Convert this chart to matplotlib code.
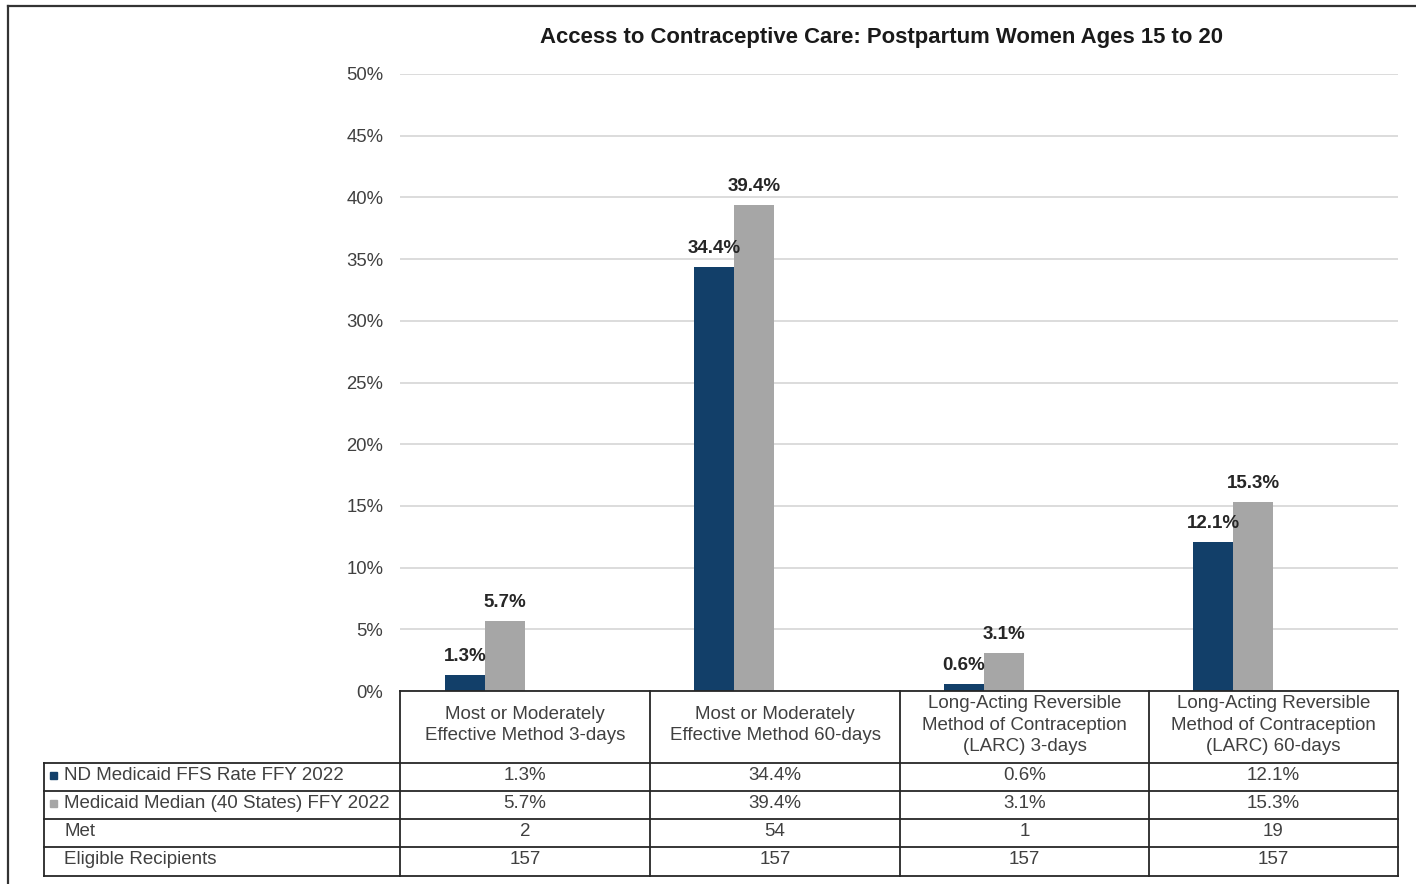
import matplotlib
matplotlib.use("Agg")
import matplotlib.pyplot as plt
from matplotlib.patches import Rectangle

W, H = 1416, 884
plt.rcParams["font.family"] = ["Liberation Sans", "DejaVu Sans"]

TITLE = "Access to Contraceptive Care: Postpartum Women Ages 15 to 20"
categories = [
    "Most or Moderately\nEffective Method 3-days",
    "Most or Moderately\nEffective Method 60-days",
    "Long-Acting Reversible\nMethod of Contraception\n(LARC) 3-days",
    "Long-Acting Reversible\nMethod of Contraception\n(LARC) 60-days",
]
series_names = ["ND Medicaid FFS Rate FFY 2022", "Medicaid Median (40 States) FFY 2022"]
nd_rate = [1.3, 34.4, 0.6, 12.1]
median_rate = [5.7, 39.4, 3.1, 15.3]
met = [2, 54, 1, 19]
eligible = [157, 157, 157, 157]
yticks = [0, 5, 10, 15, 20, 25, 30, 35, 40, 45, 50]

BLUE = "#123f69"
GRAY = "#a6a6a6"
TXT = "#404040"
EDGE = "#262626"

fig = plt.figure(figsize=(W / 100, H / 100), dpi=100)

# plot area in pixel terms
px_l, px_r, px_top, px_bot = 400, 1398, 74, 691
ax = fig.add_axes([px_l / W, (H - px_bot) / H, (px_r - px_l) / W, (px_bot - px_top) / H])
ax.patch.set_alpha(0)
x = list(range(len(categories)))
bw = 0.16
ax.bar([i - 0.24 for i in x], nd_rate, width=bw, color=BLUE, zorder=3)
ax.bar([i - 0.08 for i in x], median_rate, width=bw, color=GRAY, zorder=3)
for i, (a, b) in enumerate(zip(nd_rate, median_rate)):
    ax.annotate(f"{a}%", (i - 0.24, a), xytext=(0, 10), textcoords="offset points",
                ha="center", va="baseline", fontsize=13.5, fontweight="bold", color="#262626", zorder=4)
    ax.annotate(f"{b}%", (i - 0.08, b), xytext=(0, 10), textcoords="offset points",
                ha="center", va="baseline", fontsize=13.5, fontweight="bold", color="#262626", zorder=4)
ax.set_xlim(-0.5, len(categories) - 0.5)
ax.set_ylim(0, 50)
ax.set_yticks(yticks)
ax.set_yticklabels([f"{t}%" for t in yticks])
ax.tick_params(axis="y", length=0, pad=12, labelsize=13.3, labelcolor=TXT)
ax.set_xticks([])
ax.yaxis.grid(True, color="#d9d9d9", lw=1.3, zorder=0)
for s in ax.spines.values():
    s.set_visible(False)

fig.text(882 / W, 1 - 38 / H, TITLE, ha="center", va="center", fontsize=15.9,
         fontweight="bold", color="#1a1a1a")

# data table drawn in pixel coordinates
tab = fig.add_axes([0, 0, 1, 1])
tab.set_xlim(0, W)
tab.set_ylim(H, 0)
tab.axis("off")
col_x = [400, 650, 900, 1149, 1398]
row_y = [691, 763, 791, 819, 847, 876]
left_x = 44
lw = 1.3

# header row
tab.plot([col_x[0], col_x[-1]], [row_y[0], row_y[0]], color=EDGE, lw=lw)
for cx in col_x:
    tab.plot([cx, cx], [row_y[0], row_y[-1]], color=EDGE, lw=lw)
for y in row_y[1:]:
    tab.plot([left_x, col_x[-1]], [y, y], color=EDGE, lw=lw)
tab.plot([left_x, left_x], [row_y[1], row_y[-1]], color=EDGE, lw=lw)

for j, cat in enumerate(categories):
    cx = (col_x[j] + col_x[j + 1]) / 2
    tab.text(cx, (row_y[0] + row_y[1]) / 2 - 2, cat, ha="center", va="center",
             fontsize=13.5, color=TXT, linespacing=1.36)

rows = [
    (series_names[0], [f"{v}%" for v in nd_rate], BLUE),
    (series_names[1], [f"{v}%" for v in median_rate], GRAY),
    ("Met", [str(v) for v in met], None),
    ("Eligible Recipients", [str(v) for v in eligible], None),
]
for r, (label, vals, key) in enumerate(rows):
    yc = (row_y[r + 1] + row_y[r + 2]) / 2 - 2
    if key:
        tab.add_patch(Rectangle((50, yc - 3.5), 7, 7, color=key))
    tab.text(64, yc, label, ha="left", va="center", fontsize=13.5, color=TXT)
    for j, v in enumerate(vals):
        cx = (col_x[j] + col_x[j + 1]) / 2
        tab.text(cx, yc, v, ha="center", va="center", fontsize=13.5, color=TXT)

# outer chart frame (cut off at right and bottom)
tab.plot([8, W], [6, 6], color="#333333", lw=1.6)
tab.plot([8, 8], [6, H], color="#333333", lw=1.6)

fig.savefig("out.png", dpi=100)
